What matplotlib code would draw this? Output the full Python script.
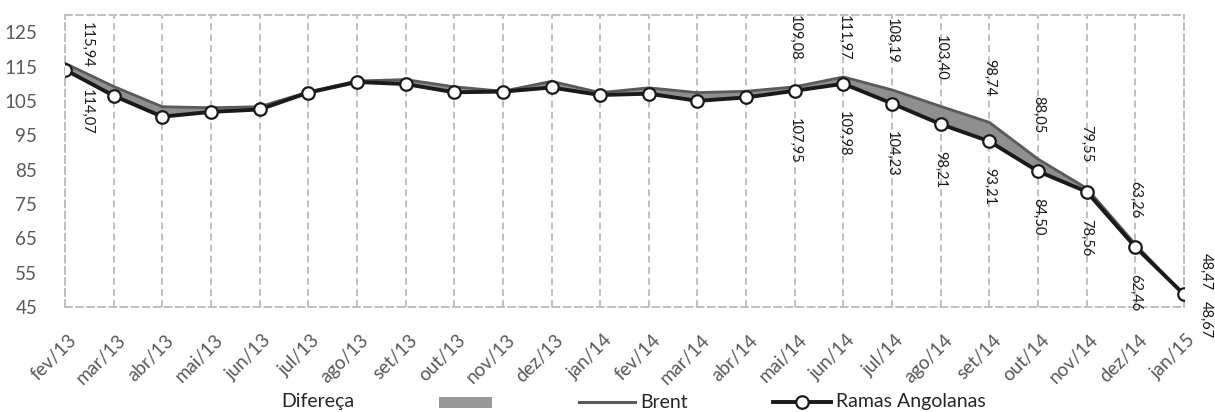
import matplotlib
matplotlib.use("Agg")
import numpy as np
import matplotlib.pyplot as plt
import matplotlib.transforms as mtransforms
from matplotlib.lines import Line2D
from matplotlib.patches import Rectangle

plt.rcParams['font.family'] = ['Lato', 'DejaVu Sans']

# monthly prices (USD/barril)
months = ['fev/13', 'mar/13', 'abr/13', 'mai/13', 'jun/13', 'jul/13', 'ago/13',
          'set/13', 'out/13', 'nov/13', 'dez/13', 'jan/14', 'fev/14', 'mar/14',
          'abr/14', 'mai/14', 'jun/14', 'jul/14', 'ago/14', 'set/14', 'out/14',
          'nov/14', 'dez/14', 'jan/15']
brent = [115.94, 109.2, 103.3, 103.0, 103.3, 107.6, 110.8, 111.2, 109.1, 107.8,
         110.7, 107.4, 108.8, 107.4, 107.8, 109.08, 111.97, 108.19, 103.40,
         98.74, 88.05, 79.55, 63.26, 48.47]
ramas = [114.07, 106.5, 100.4, 101.8, 102.5, 107.4, 110.5, 109.9, 107.5, 107.7,
         108.9, 106.7, 107.1, 105.0, 106.0, 107.95, 109.98, 104.23, 98.21,
         93.21, 84.50, 78.56, 62.46, 48.67]
labelled = [0, 15, 16, 17, 18, 19, 20, 21, 22, 23]
yticks = [45, 55, 65, 75, 85, 95, 105, 115, 125]

W, H = 1215, 412
fig = plt.figure(figsize=(W / 100, H / 100), dpi=100)
ax = fig.add_axes([65 / W, 1 - 307 / H, (1184 - 65) / W, (307 - 15) / H])

x = np.arange(len(months))
grid_col = '#bfbfbf'
dash = (0, (3.5, 2.2))

ax.fill_between(x, ramas, brent, color='#8f8f8f', lw=0, zorder=2)
ax.plot(x, brent, color='#5a5a5a', lw=2.0, zorder=3)
ax.plot(x, ramas, color='#1a1a1a', lw=2.8, marker='o', ms=9,
        mfc='white', mec='#1a1a1a', mew=1.6, zorder=4)

ax.set_xlim(0, len(months) - 1)
ax.set_ylim(45, 130)
ax.set_xticks(x)
ax.set_xticklabels(months, rotation=45, ha='right', va='center',
                   rotation_mode='anchor', fontsize=13.5, color='#595959')
ax.set_yticks(yticks)
ax.set_yticklabels([str(v) for v in yticks], fontsize=13.5, color='#595959')
ax.tick_params(axis='y', length=0, pad=20)
ax.tick_params(axis='x', length=0, pad=22)
shift = mtransforms.ScaledTranslation(9 / 100, 0, fig.dpi_scale_trans)
for lab in ax.get_xticklabels():
    lab.set_transform(lab.get_transform() + shift)

ax.grid(axis='x', color=grid_col, lw=1.4, linestyle=dash, zorder=1)
ax.grid(axis='y', visible=False)
for sp in ax.spines.values():
    sp.set_color(grid_col)
    sp.set_linewidth(1.4)
    sp.set_linestyle(dash)

fig.canvas.draw()
top_px = ax.transAxes.transform((0, 1))[1]


def fmt(v):
    return ('%.2f' % v).replace('.', ',')


lab_kw = dict(fontsize=10.5, color='#1a1a1a', rotation=-90,
              textcoords='offset pixels', zorder=5)
last = len(months) - 1
for i in labelled:
    if i == 0 or i == last:
        ax.annotate(fmt(brent[i]), (x[i], brent[i]),
                    xytext=(22, -4 if i == 0 else 5),
                    ha='center', va='bottom', **lab_kw)
        ax.annotate(fmt(ramas[i]), (x[i], ramas[i]),
                    xytext=(22, -19 if i == 0 else -7),
                    ha='center', va='top', **lab_kw)
        continue
    py = ax.transData.transform((x[i], brent[i]))[1]
    off = min(26, top_px - py - 46)
    ax.annotate(fmt(brent[i]), (x[i], brent[i]), xytext=(0, off),
                ha='center', va='bottom', **lab_kw)
    ax.annotate(fmt(ramas[i]), (x[i], ramas[i]), xytext=(0, -27),
                ha='center', va='top', **lab_kw)

# legend drawn in figure pixels
ly = 1 - 402 / H
fig.text(281 / W, ly, 'Difereça', ha='left', va='center', fontsize=14,
         color='#262626')
fig.add_artist(Rectangle((439 / W, ly - 5.5 / H), 53 / W, 11 / H,
                         transform=fig.transFigure, color='#999999', lw=0))
fig.add_artist(Line2D([579 / W, 635 / W], [ly, ly], transform=fig.transFigure,
                      color='#5a5a5a', lw=2.2))
fig.text(640 / W, ly, 'Brent', ha='left', va='center', fontsize=14,
         color='#262626')
fig.add_artist(Line2D([773 / W, 831 / W], [ly, ly], transform=fig.transFigure,
                      color='#1a1a1a', lw=2.8))
fig.add_artist(Line2D([802 / W], [ly], transform=fig.transFigure, marker='o',
                      ms=9, mfc='white', mec='#1a1a1a', mew=1.6))
fig.text(836 / W, ly, 'Ramas Angolanas', ha='left', va='center',
         fontsize=14, color='#262626')

fig.savefig('out.png', dpi=100)
